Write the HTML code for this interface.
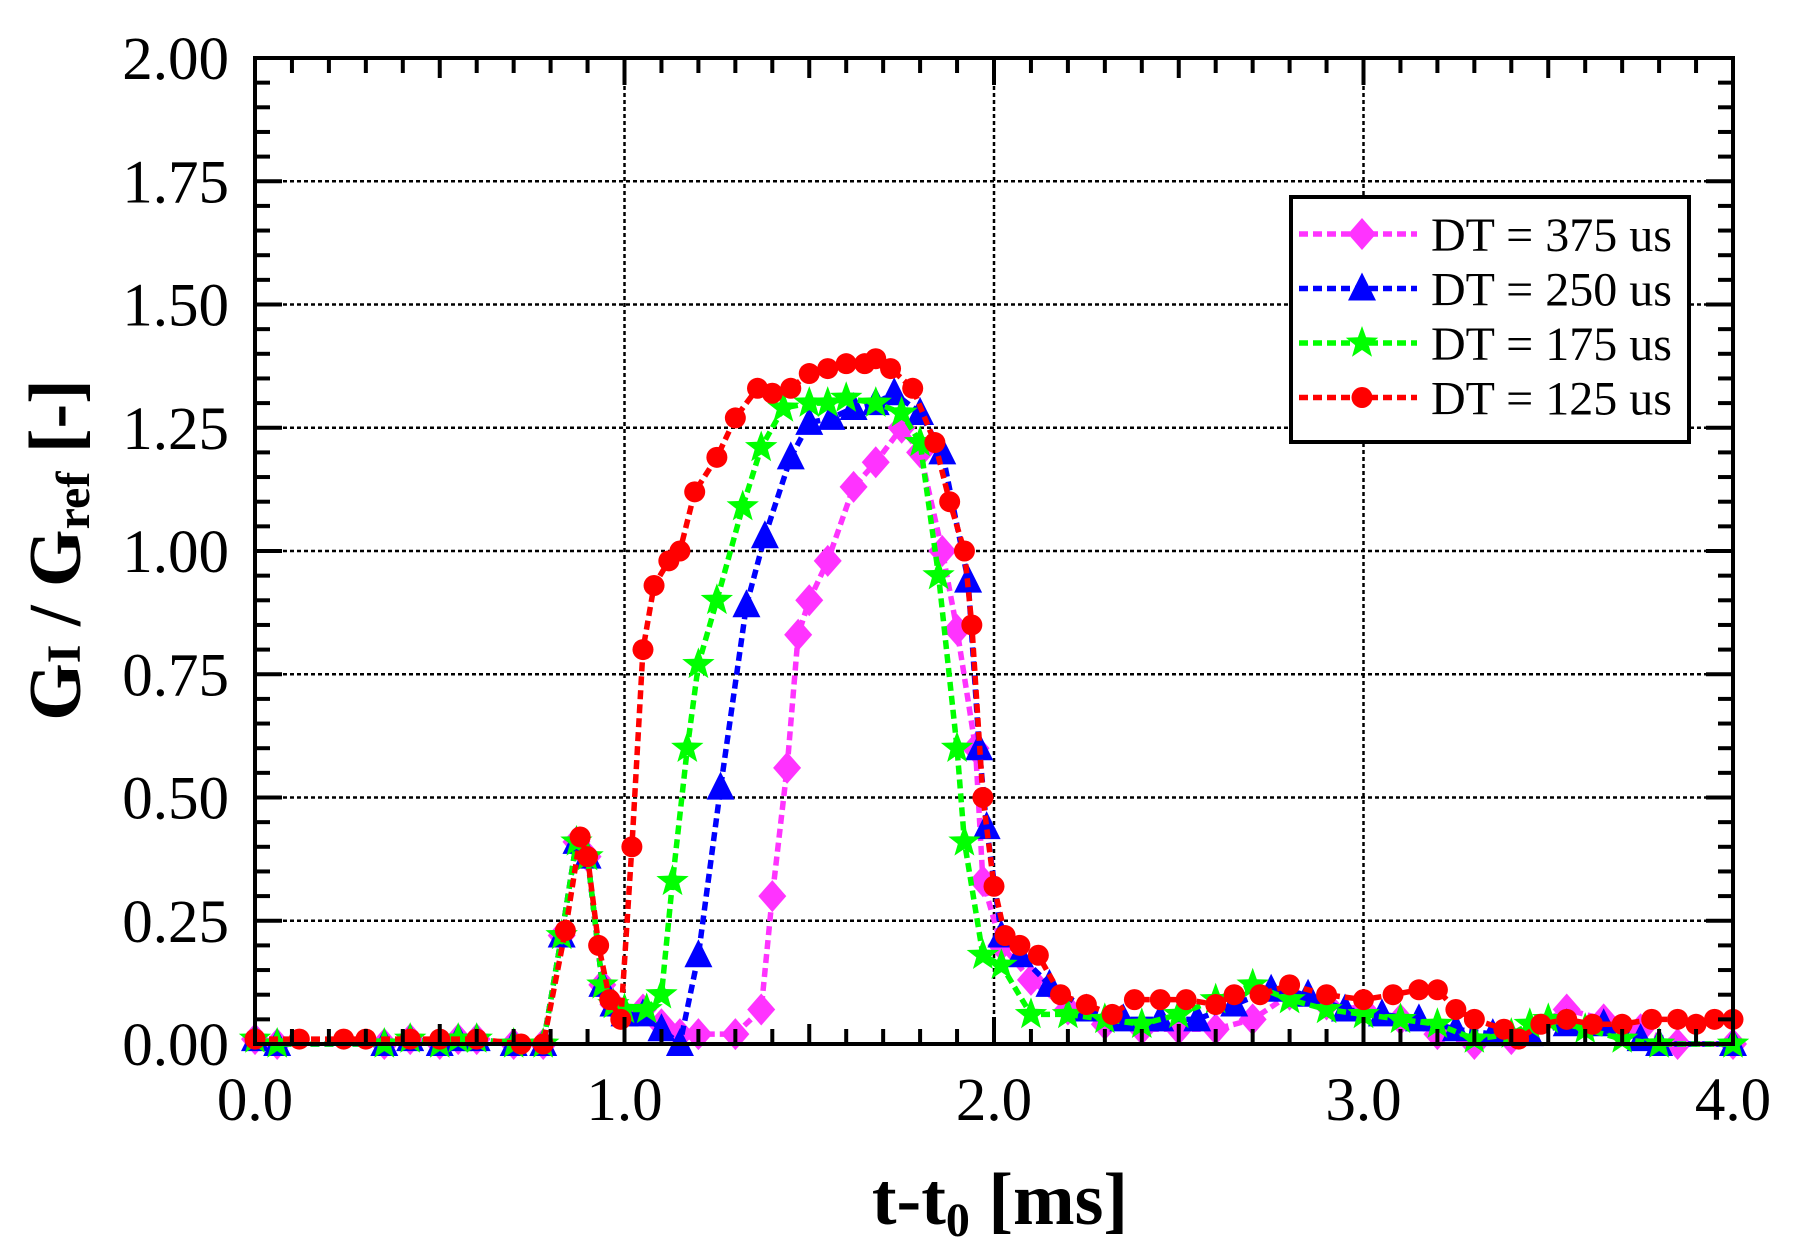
<!DOCTYPE html>
<html><head><meta charset="utf-8"><style>
html,body{margin:0;padding:0;background:#fff;}
svg{display:block;}
text{font-family:"Liberation Serif",serif;fill:#000;}
</style></head><body>
<svg id="s" width="1809" height="1257" viewBox="0 0 1809 1257" xmlns="http://www.w3.org/2000/svg">
<rect x="0" y="0" width="1809" height="1257" fill="#fff"/>
<g id="grid"></g>
<g id="series"></g>
<rect x="255" y="58" width="1478" height="986" fill="none" stroke="#000" stroke-width="4"/>
<g id="ticks"></g>
<g font-size="61" text-anchor="end" id="ylab"></g>
<g font-size="61" text-anchor="middle" id="xlab"></g>
<text x="1000" y="1224" font-size="74" font-weight="bold" text-anchor="middle">t-t<tspan font-size="48" dy="12">0</tspan><tspan dy="-12"> [ms]</tspan></text>
<text transform="translate(80,550) rotate(-90)" font-size="74" font-weight="bold" text-anchor="middle">G<tspan font-size="48">I</tspan> / G<tspan font-size="48" dy="9">ref</tspan><tspan dy="-9"> [-]</tspan></text>
<rect x="1291" y="197" width="398" height="245" fill="#fff" stroke="#000" stroke-width="4"/>
<g id="leg" font-size="48"></g>
</svg>
<script>
const NS="http://www.w3.org/2000/svg";
const X=t=>255+369.5*t, Y=v=>1044-493*v;
function el(p,n,a){const e=document.createElementNS(NS,n);for(const k in a)e.setAttribute(k,a[k]);document.getElementById(p).appendChild(e);return e;}
for(let i=1;i<8;i++)el('grid','line',{x1:255,x2:1733,y1:Y(i*0.25),y2:Y(i*0.25),stroke:'#000','stroke-width':2.5,'stroke-dasharray':'4 3'});
for(let i=1;i<4;i++)el('grid','line',{x1:X(i),x2:X(i),y1:58,y2:1044,stroke:'#000','stroke-width':2.5,'stroke-dasharray':'4 3'});
for(let i=1;i<40;i++){const v=i*0.05;const L=(i%5==0)?27:15;
 el('ticks','line',{x1:255,x2:255+L,y1:Y(v),y2:Y(v),stroke:'#000','stroke-width':4});
 el('ticks','line',{x1:1733,x2:1733-L,y1:Y(v),y2:Y(v),stroke:'#000','stroke-width':4});}
for(let i=1;i<40;i++){const t=i*0.1;const L=(i%10==0)?27:(i%5==0?20:15);
 el('ticks','line',{y1:1044,y2:1044-L,x1:X(t),x2:X(t),stroke:'#000','stroke-width':4});
 el('ticks','line',{y1:58,y2:58+L,x1:X(t),x2:X(t),stroke:'#000','stroke-width':4});}
for(let i=0;i<=8;i++){const t=el('ylab','text',{x:229,y:Y(i*0.25)+21});t.textContent=(i*0.25).toFixed(2);}
for(let i=0;i<=4;i++){const t=el('xlab','text',{x:X(i),y:1120});t.textContent=i.toFixed(1);}
const base=[[0,0.01],[0.06,0.0],[0.35,0.0],[0.42,0.01],[0.5,0.0],[0.55,0.01],[0.6,0.01],[0.7,0.0],[0.78,0.0],[0.83,0.22],[0.87,0.41],[0.9,0.38],[0.94,0.12],[0.97,0.08]];
const red=[[0,0.01],[0.12,0.01],[0.24,0.01],[0.3,0.01],[0.42,0.01],[0.5,0.01],[0.6,0.01],[0.72,0.0],[0.78,0.0],[0.84,0.23],[0.88,0.42],[0.9,0.38],[0.93,0.2],[0.96,0.09],[0.99,0.05],[1.02,0.4],[1.05,0.8],[1.08,0.93],[1.12,0.98],[1.15,1.0],[1.19,1.12],[1.25,1.19],[1.3,1.27],[1.36,1.33],[1.4,1.32],[1.45,1.33],[1.5,1.36],[1.55,1.37],[1.6,1.38],[1.65,1.38],[1.68,1.39],[1.72,1.37],[1.78,1.33],[1.84,1.22],[1.88,1.1],[1.92,1.0],[1.94,0.85],[1.97,0.5],[2.0,0.32],[2.03,0.22],[2.07,0.2],[2.12,0.18],[2.18,0.1],[2.25,0.08],[2.32,0.06],[2.38,0.09],[2.45,0.09],[2.52,0.09],[2.6,0.08],[2.65,0.1],[2.72,0.1],[2.8,0.12],[2.9,0.1],[3.0,0.09],[3.08,0.1],[3.15,0.11],[3.2,0.11],[3.25,0.07],[3.3,0.05],[3.38,0.03],[3.42,0.01],[3.48,0.04],[3.55,0.05],[3.62,0.04],[3.7,0.04],[3.78,0.05],[3.85,0.05],[3.9,0.04],[3.95,0.05],[4.0,0.05]];
const green=base.concat([[1.0,0.07],[1.06,0.07],[1.1,0.1],[1.13,0.33],[1.17,0.6],[1.2,0.77],[1.25,0.9],[1.32,1.09],[1.37,1.21],[1.43,1.29],[1.5,1.3],[1.55,1.3],[1.6,1.31],[1.68,1.3],[1.75,1.28],[1.8,1.22],[1.85,0.95],[1.9,0.6],[1.92,0.41],[1.97,0.18],[2.02,0.16],[2.1,0.06],[2.2,0.06],[2.3,0.05],[2.4,0.04],[2.5,0.06],[2.6,0.09],[2.7,0.12],[2.8,0.09],[2.9,0.07],[3.0,0.06],[3.1,0.05],[3.2,0.04],[3.3,0.01],[3.4,0.02],[3.45,0.04],[3.5,0.05],[3.6,0.03],[3.7,0.01],[3.8,0.0],[4.0,0.0]]);
const blue=base.concat([[1.0,0.06],[1.05,0.06],[1.1,0.03],[1.15,0.0],[1.2,0.18],[1.26,0.52],[1.33,0.89],[1.38,1.03],[1.45,1.19],[1.5,1.26],[1.56,1.27],[1.62,1.29],[1.68,1.3],[1.73,1.32],[1.8,1.28],[1.86,1.2],[1.93,0.94],[1.96,0.6],[1.98,0.44],[2.02,0.22],[2.07,0.18],[2.15,0.12],[2.25,0.07],[2.35,0.05],[2.45,0.05],[2.55,0.05],[2.65,0.08],[2.75,0.11],[2.85,0.1],[2.95,0.07],[3.05,0.06],[3.15,0.05],[3.25,0.03],[3.35,0.02],[3.45,0.02],[3.55,0.04],[3.65,0.04],[3.75,0.01],[3.8,0.0],[4.0,0.0]]);
const mag=base.concat([[1.0,0.06],[1.05,0.07],[1.1,0.04],[1.15,0.02],[1.2,0.02],[1.3,0.02],[1.37,0.07],[1.4,0.3],[1.44,0.56],[1.47,0.83],[1.5,0.9],[1.55,0.98],[1.62,1.13],[1.68,1.18],[1.75,1.25],[1.8,1.2],[1.86,1.0],[1.9,0.84],[1.95,0.6],[1.97,0.33],[2.02,0.2],[2.1,0.13],[2.2,0.07],[2.3,0.04],[2.4,0.03],[2.5,0.03],[2.6,0.03],[2.7,0.05],[2.8,0.1],[2.9,0.08],[3.0,0.07],[3.1,0.05],[3.2,0.02],[3.3,0.0],[3.4,0.01],[3.55,0.07],[3.65,0.05],[3.75,0.03],[3.85,0.0],[4.0,0.0]]);
function marker(g,type,x,y,c){
 if(type=='d')el(g,'polygon',{points:`${x},${y-16} ${x+14},${y} ${x},${y+16} ${x-14},${y}`,fill:c});
 else if(type=='t')el(g,'polygon',{points:`${x},${y-16} ${x+14},${y+12} ${x-14},${y+12}`,fill:c});
 else if(type=='c')el(g,'circle',{cx:x,cy:y,r:10.5,fill:c});
 else{let p=[];for(let i=0;i<10;i++){const r=i%2?7:17,a=-Math.PI/2+i*Math.PI/5;p.push((x+r*Math.cos(a)).toFixed(1)+','+(y+r*Math.sin(a)).toFixed(1));}el(g,'polygon',{points:p.join(' '),fill:c});}
}
function series(d,c,type){
 el('series','polyline',{points:d.map(p=>X(p[0])+','+Y(p[1])).join(' '),fill:'none',stroke:c,'stroke-width':5.5,'stroke-dasharray':'9 5'});
 d.forEach(p=>marker('series',type,X(p[0]),Y(p[1]),c));
}
series(mag,'#ff33ff','d');series(blue,'#0000ff','t');series(green,'#00ff00','s');series(red,'#ff0000','c');
const L=[['#ff33ff','d','DT = 375 us'],['#0000ff','t','DT = 250 us'],['#00ff00','s','DT = 175 us'],['#ff0000','c','DT = 125 us']];
L.forEach((l,i)=>{const y=234+i*54.5;
 el('leg','line',{x1:1299,x2:1417,y1:y,y2:y,stroke:l[0],'stroke-width':5.5,'stroke-dasharray':'9 5'});
 marker('leg',l[1],1362,y,l[0]);
 const t=el('leg','text',{x:1431,y:y+17});t.textContent=l[2];});
</script>
</body></html>
